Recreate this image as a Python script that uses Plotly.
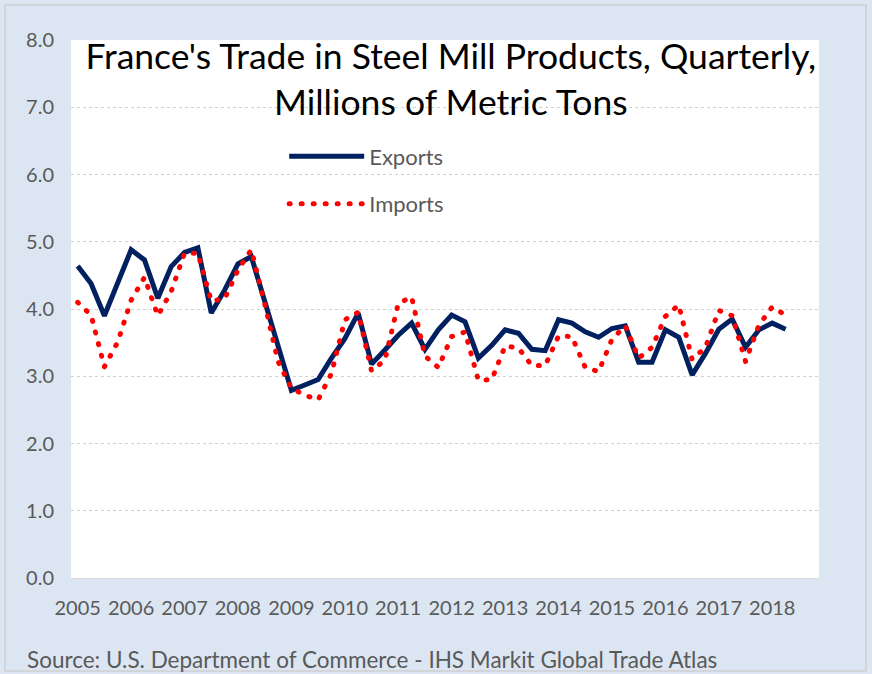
import plotly.graph_objects as go

years = [str(y) for y in range(2005, 2019)]
quarters = [f"{y} Q{q}" for y in range(2005, 2019) for q in range(1, 5)]

exports = [4.64, 4.38, 3.90, 4.40, 4.88, 4.73, 4.16, 4.63, 4.84, 4.91,
           3.94, 4.28, 4.67, 4.78, 4.12, 3.45, 2.79, 2.87, 2.95, 3.27,
           3.56, 3.94, 3.18, 3.39, 3.61, 3.79, 3.40, 3.69, 3.91, 3.81,
           3.27, 3.46, 3.69, 3.64, 3.40, 3.38, 3.84, 3.79, 3.66, 3.58,
           3.71, 3.75, 3.21, 3.21, 3.69, 3.58, 3.02, 3.34, 3.70, 3.85,
           3.43, 3.69, 3.79, 3.70]
imports = [4.10, 3.91, 3.14, 3.51, 4.13, 4.47, 3.90, 4.26, 4.83, 4.83,
           4.12, 4.15, 4.58, 4.88, 4.08, 3.22, 2.82, 2.72, 2.65, 3.04,
           3.84, 3.95, 3.08, 3.24, 4.08, 4.18, 3.30, 3.13, 3.59, 3.66,
           2.94, 2.95, 3.45, 3.42, 3.16, 3.16, 3.60, 3.59, 3.13, 3.07,
           3.55, 3.75, 3.27, 3.43, 3.89, 4.06, 3.25, 3.43, 3.98, 3.90,
           3.22, 3.76, 4.03, 3.91]

BLUE_BG = "#DCE6F2"
GRAY_TXT = "#595959"
FONT = "Lato"

fig = go.Figure()
fig.add_trace(go.Scatter(
    x=quarters[:len(exports)], y=exports, name="Exports", mode="lines",
    line=dict(color="#002060", width=5), legendgroup="e"))
fig.add_trace(go.Scatter(
    x=quarters[:len(imports)], y=imports, name="Imports", mode="lines",
    line=dict(color="#FF0000", width=5, dash="1px,11px"), legendgroup="i"))

W, H = 872, 674
L, R, T, B = 71, 53, 40, 96

fig.update_layout(
    width=W, height=H,
    margin=dict(l=L, r=R, t=T, b=B, pad=0),
    paper_bgcolor=BLUE_BG, plot_bgcolor="white",
    font=dict(family=FONT, color=GRAY_TXT),
    title=dict(text="France's Trade in Steel Mill Products, Quarterly,<br>Millions of Metric Tons",
               x=0.517, xanchor="center", y=1 - 69 / H, yanchor="top",
               font=dict(family=FONT, size=35.5, color="black")),
    showlegend=True,
    legend=dict(x=0.285, y=0.8226, xanchor="left", yanchor="top",
                bgcolor="rgba(0,0,0,0)", font=dict(size=22, color=GRAY_TXT),
                tracegroupgap=16, itemwidth=75),
    xaxis=dict(type="category", categoryorder="array", categoryarray=quarters,
               range=[-0.5, len(quarters) - 0.5],
               tickmode="array", tickvals=[f"{y} Q1" for y in years], ticktext=years,
               showgrid=False, ticks="", showline=True, linecolor="#D9D9D9", linewidth=1,
               tickfont=dict(size=20, color=GRAY_TXT), ticklabelstandoff=12),
    yaxis=dict(range=[0, 8], dtick=1, tickformat=".1f", showgrid=True,
               gridcolor="#D0D0D0", griddash="dot", gridwidth=1, zeroline=False,
               ticks="", tickfont=dict(size=20, color=GRAY_TXT), ticklabelstandoff=16),
    annotations=[dict(text="Source: U.S. Department of Commerce - IHS Markit Global Trade Atlas",
                      xref="paper", yref="paper", x=(25 - L) / (W - L - R),
                      y=-(659 - (H - B)) / (H - T - B), xanchor="left", yanchor="middle",
                      showarrow=False, font=dict(size=22.5, color=GRAY_TXT, family=FONT))],
    shapes=[dict(type="rect", xref="paper", yref="paper",
                 x0=(5 - L) / (W - L - R), x1=(866 - L) / (W - L - R),
                 y0=-(671 - (H - B)) / (H - T - B), y1=(H - B - 5) / (H - T - B),
                 line=dict(color="#D0D0D0", width=1.5), layer="below")],
)

post = """
var gd = document.getElementsByClassName('plotly-graph-div')[0];
function fix(){
  document.querySelectorAll('path.js-line').forEach(function(p){
    var s = p.style.strokeDasharray || p.getAttribute('stroke-dasharray') || '';
    if (s && s !== 'none') { p.style.strokeLinecap = 'round'; }
  });
}
fix();
gd.on('plotly_afterplot', fix);
document.body.style.margin = '0';
"""
fig.write_html("out.html", post_script=post, config={"displayModeBar": False})
